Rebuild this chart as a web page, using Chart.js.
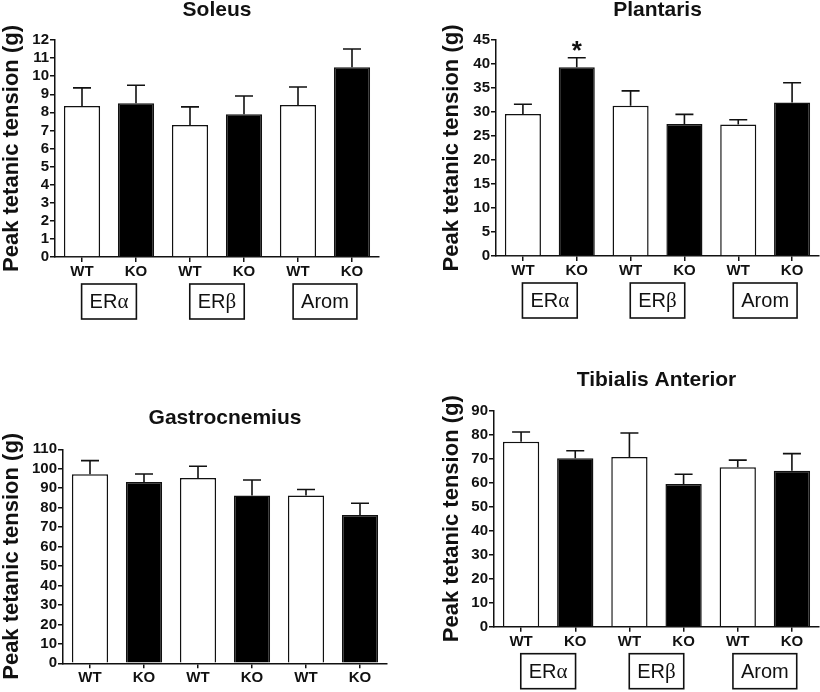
<!DOCTYPE html>
<html>
<head>
<meta charset="utf-8">
<title>Peak tetanic tension</title>
<style>
  body { margin: 0; background: #fff; }
  #wrap { position: relative; width: 820px; height: 692px; }
  canvas { position: absolute; }
</style>
</head>
<body>
<div id="wrap">
  <canvas id="soleus" width="410" height="330" style="left:0;top:0"></canvas>
  <canvas id="plantaris" width="410" height="330" style="left:410px;top:0"></canvas>
  <canvas id="gastro" width="410" height="292" style="left:0;top:400px"></canvas>
  <canvas id="tibialis" width="410" height="332" style="left:410px;top:360px"></canvas>
</div>

<script src="https://cdn.jsdelivr.net/npm/chart.js@4.4.0/dist/chart.umd.min.js"></script>
<script>
// data
const genotypes = ['WT', 'KO', 'WT', 'KO', 'WT', 'KO'];
const groups = ['ER\u03b1', 'ER\u03b2', 'Arom'];

const soleusMean = [8.35, 8.5, 7.3, 7.9, 8.4, 10.5];
const soleusSem = [1.0, 1.0, 1.0, 1.0, 1.0, 1.0];

const plantarisMean = [29.6, 39.3, 31.3, 27.5, 27.4, 32.0];
const plantarisSem = [2.0, 2.0, 3.1, 2.0, 1.0, 4.1];
const plantarisSig = ['', '*', '', '', '', ''];

const gastroMean = [97.2, 93.2, 95.3, 86.2, 86.2, 76.2];
const gastroSem = [7.0, 4.1, 6.0, 8.0, 3.1, 6.1];

const tibialisMean = [77.1, 70.2, 70.7, 59.5, 66.4, 65.0];
const tibialisSem = [4.0, 3.1, 10.0, 4.0, 3.0, 7.1];

const INK = '#111';
const FONT = "'Liberation Sans', Arial, Helvetica, sans-serif";
const SERIF = "'Liberation Serif', 'Times New Roman', serif";
Chart.defaults.font.family = FONT;
Chart.defaults.color = INK;

// group label: latin part in sans, greek letter in serif
function drawGroupLabel(ctx, text, cx, cy) {
    const m = text.match(/^([A-Za-z]+)([\u0370-\u03ff]?)$/);
    const latin = m ? m[1] : text, greek = m ? m[2] : '';
    ctx.font = '20px ' + FONT;
    const wl = ctx.measureText(latin).width;
    ctx.font = '21px ' + SERIF;
    const wg = greek ? ctx.measureText(greek).width : 0;
    let x0 = cx - (wl + wg) / 2;
    ctx.textAlign = 'left';
    ctx.textBaseline = 'middle';
    ctx.font = '20px ' + FONT;
    ctx.fillText(latin, x0, cy);
    if (greek) {
        ctx.font = '21px ' + SERIF;
        ctx.fillText(greek, x0 + wl, cy);
    }
    return wl + wg;
}

// error bars, significance stars and the boxed group names under the axis
const barExtras = {
    id: 'barExtras',
    afterDatasetsDraw(chart, args, opts) {
        const ctx = chart.ctx;
        const y = chart.scales.y, x = chart.scales.x;
        const ds = chart.data.datasets[0];
        const meta = chart.getDatasetMeta(0);
        ctx.save();
        ctx.strokeStyle = INK;
        ctx.fillStyle = INK;
        ctx.lineWidth = 1.6;
        meta.data.forEach((bar, i) => {
            const top = y.getPixelForValue(ds.data[i]);
            const end = y.getPixelForValue(ds.data[i] + ds.sem[i]);
            ctx.beginPath();
            ctx.moveTo(bar.x, top);
            ctx.lineTo(bar.x, end);
            ctx.moveTo(bar.x - 9, end);
            ctx.lineTo(bar.x + 9, end);
            ctx.stroke();
            if (opts.sig && opts.sig[i]) {
                ctx.font = 'bold 26px ' + FONT;
                ctx.textAlign = 'center';
                ctx.textBaseline = 'alphabetic';
                ctx.fillText(opts.sig[i], bar.x, end + 1);
            }
        });
        if (opts.groups) {
            const base = chart.chartArea.bottom;
            opts.groups.forEach((g, k) => {
                const cx = (x.getPixelForValue(2 * k) + x.getPixelForValue(2 * k + 1)) / 2;
                const top = base + 27, h = 35;
                const tw = drawGroupLabel(ctx, g, cx, top + h / 2 + 1);
                const w = tw + 16;
                ctx.strokeRect(cx - w / 2, top, w, h);
            });
        }
        ctx.restore();
    }
};

function makePanel(id, p) {
    const ctx = document.getElementById(id).getContext('2d');
    return new Chart(ctx, {
        type: 'bar',
        data: {
            labels: genotypes,
            datasets: [{
                data: p.mean,
                sem: p.sem,
                backgroundColor: genotypes.map(g => g === 'WT' ? '#fff' : '#000'),
                borderColor: INK,
                borderWidth: 1.5,
                barPercentage: 0.67,
                categoryPercentage: 1.0
            }]
        },
        options: {
            responsive: false,
            animation: false,
            layout: { padding: { left: 0, right: p.padRight, top: 0, bottom: 0 } },
            plugins: {
                legend: { display: false },
                tooltip: { enabled: false },
                title: {
                    display: true,
                    text: p.title,
                    fullSize: false,
                    color: INK,
                    font: { size: 21, weight: 'bold', lineHeight: 1 },
                    padding: { top: p.titleTop, bottom: p.titleBottom }
                },
                barExtras: { sig: p.sig, groups: p.groups }
            },
            scales: {
                x: {
                    ticks: { font: { size: 15, weight: 'bold' }, color: INK, padding: 1, autoSkip: false, maxRotation: 0 },
                    grid: { drawOnChartArea: false, offset: false, tickLength: 5, color: INK, lineWidth: 1.5 },
                    border: { color: INK, width: 1.5 },
                    afterFit(s) { s.height = p.xHeight; }
                },
                y: {
                    min: 0,
                    max: p.max,
                    ticks: { stepSize: p.step, font: { size: 15, weight: 'bold', lineHeight: 1 }, color: INK, padding: 1, autoSkip: false },
                    grid: { drawOnChartArea: false, tickLength: 5, color: INK, lineWidth: 1.5 },
                    border: { color: INK, width: 1.5 },
                    title: {
                        display: true,
                        text: 'Peak tetanic tension (g)',
                        color: INK,
                        font: { size: 22, weight: 'bold', lineHeight: 1 },
                        padding: { top: p.yTitlePad, bottom: 0 }
                    },
                    afterFit(s) { s.width = p.left; }
                }
            }
        },
        plugins: [barExtras]
    });
}

makePanel('soleus', {
    title: 'Soleus', mean: soleusMean, sem: soleusSem, max: 12, step: 1,
    groups: groups, left: 55, padRight: 31, titleTop: 0, titleBottom: 19, xHeight: 73, yTitlePad: 1
});
makePanel('plantaris', {
    title: 'Plantaris', mean: plantarisMean, sem: plantarisSem, sig: plantarisSig, max: 45, step: 5,
    groups: groups, left: 86, padRight: 1, titleTop: 0, titleBottom: 19, xHeight: 74, yTitlePad: 31
});
makePanel('gastro', {
    title: 'Gastrocnemius', mean: gastroMean, sem: gastroSem, max: 110, step: 10,
    left: 63, padRight: 23, titleTop: 7.5, titleBottom: 20.8, xHeight: 28.7, yTitlePad: 1
});
makePanel('tibialis', {
    title: 'Tibialis Anterior', mean: tibialisMean, sem: tibialisSem, max: 90, step: 10,
    groups: groups, left: 84, padRight: 1, titleTop: 9.5, titleBottom: 20.2, xHeight: 65.3, yTitlePad: 31
});
</script>
</body>
</html>
